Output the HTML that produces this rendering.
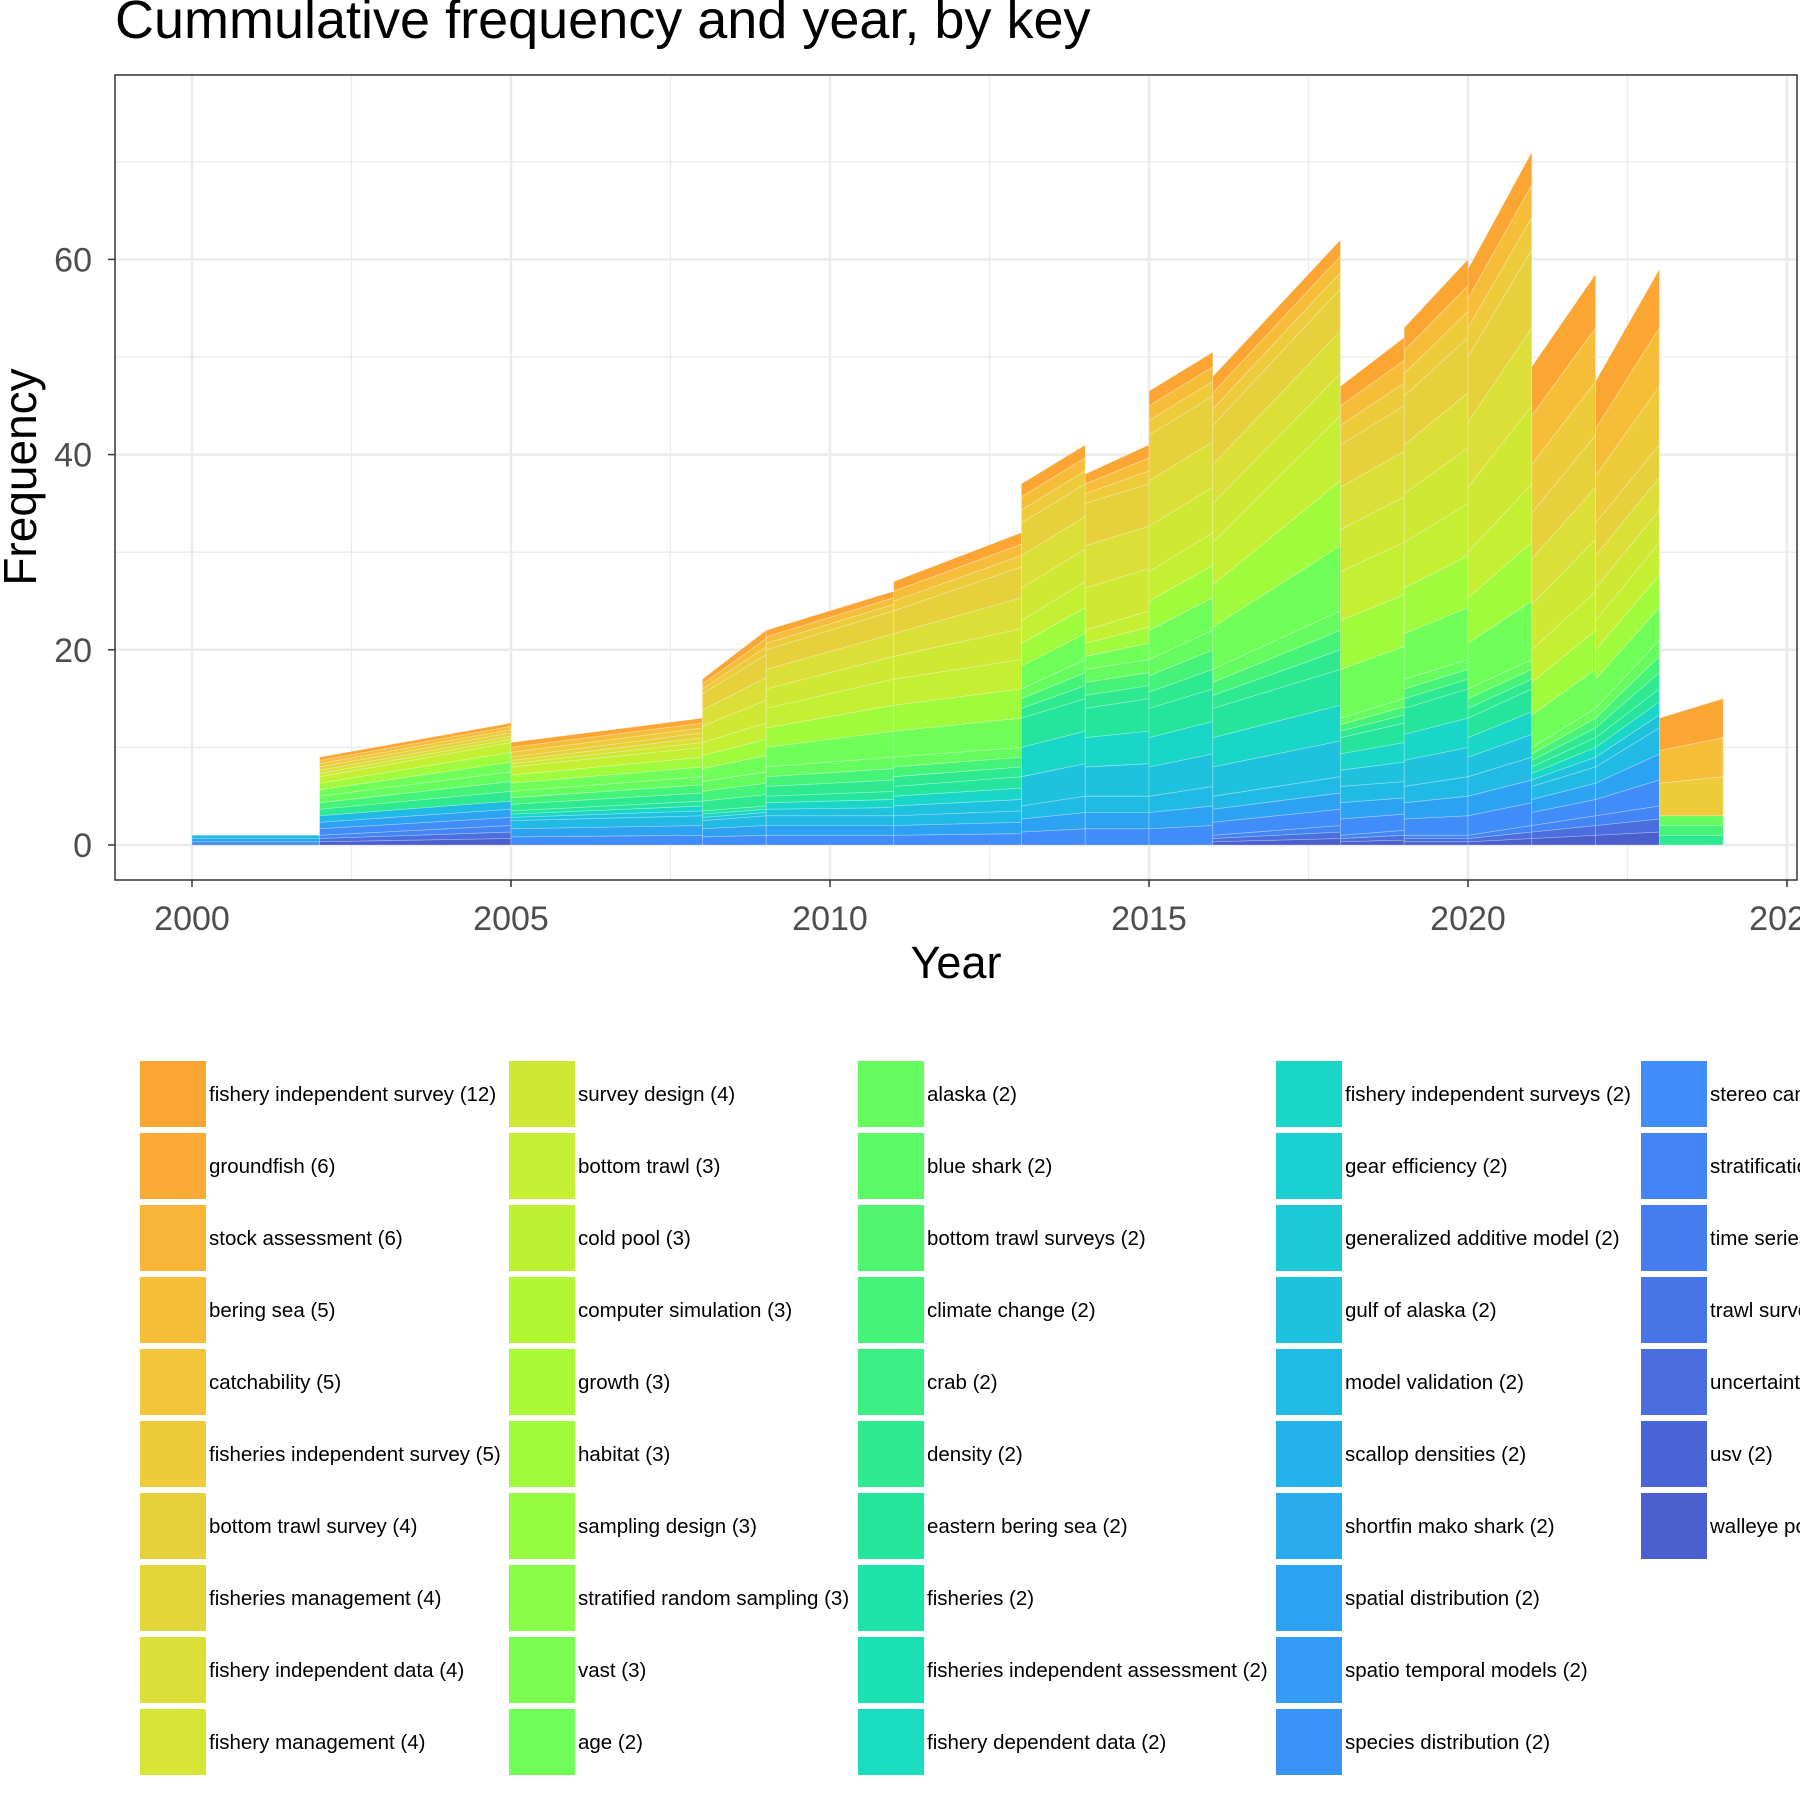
<!DOCTYPE html>
<html><head><meta charset="utf-8"><style>
body{margin:0;background:#fff;width:1800px;height:1800px;overflow:hidden;font-family:"Liberation Sans",Arial,sans-serif}
</style></head><body>
<svg id="chart" width="1800" height="1800" xmlns="http://www.w3.org/2000/svg">
<text x="115" y="38" font-size="54" fill="#000">Cummulative frequency and year, by key</text>
<g id="grid"></g>
<g id="areas"></g>
<rect x="115" y="75" width="1682" height="805" fill="none" stroke="#333" stroke-width="1.5"/>
<g id="axes"></g>
<text x="956" y="978" font-size="45" text-anchor="middle">Year</text>
<text transform="translate(36,477) rotate(-90)" font-size="46" text-anchor="middle">Frequency</text>
<g id="legend"></g>
</svg>
<script>
const xTicks=[2000,2005,2010,2015,2020,2025];
const yTicks=[0,20,40,60];
// segments: start year, end year
const segStart=[2000,2002,2005,2008,2009,2011,2013,2014,2015,2016,2018,2019,2020,2021,2022,2023];
const segEnd=[2002,2005,2008,2009,2011,2013,2014,2015,2016,2018,2019,2020,2021,2022,2023,2024];
// per group values at segment start / end (blue, cyan, teal, green, lime, yellow, orange)
const valStart=[
[0,1,0,0,0,0,0],[1,2,0,2,2,1,1],[0,2.5,1,2,2.5,1,1.5],[0,2.5,1,3,4,5,1.5],
[0,3,2,3,6,6,2],[0,3,3,3,8,7,3],[0,4,9,3,7,10,4],[0,5,9,4,4,13,3],
[0,5,9,5,9,14,4.5],[1,4,9,4,13,12,5],[1,5,5,2,15,13,6],[1,5,8,3,14,15,7],
[1,6,6,3,14,20,9],[2,4,2,2,10,14,15],[3,5,3,3,9,10,14.5],[0,0,0,3,0,0,10]];
const valEnd=[
[0,1,0,0,0,0,0],[2,2.5,0,3,3,1,1],[0,3,1.5,2.5,3,1.5,1.5],[0,3,1,3.5,5,7,2.5],
[0,3,2.5,3.5,8,7,2],[0,3.5,3.5,3,9,9.5,3.5],[0,5,10,4,8,10,4],[0,5,10,4,5,13,4],
[0,6,10,6,10,14,4.5],[2,5,11,6,20,13,5],[1.5,5,6,2.5,16,14,7],[1,6,9,3,16,17,8],
[2,7,7,3,18,24,10],[3,5,3,3,12,16,16.5],[4,8,4,5,10,10,18],[0,0,0,3,0,0,12]];
const legendLabels=["fishery independent survey (12)","groundfish (6)","stock assessment (6)","bering sea (5)","catchability (5)","fisheries independent survey (5)","bottom trawl survey (4)","fisheries management (4)","fishery independent data (4)","fishery management (4)",
"survey design (4)","bottom trawl (3)","cold pool (3)","computer simulation (3)","growth (3)","habitat (3)","sampling design (3)","stratified random sampling (3)","vast (3)","age (2)",
"alaska (2)","blue shark (2)","bottom trawl surveys (2)","climate change (2)","crab (2)","density (2)","eastern bering sea (2)","fisheries (2)","fisheries independent assessment (2)","fishery dependent data (2)",
"fishery independent surveys (2)","gear efficiency (2)","generalized additive model (2)","gulf of alaska (2)","model validation (2)","scallop densities (2)","shortfin mako shark (2)","spatial distribution (2)","spatio temporal models (2)","species distribution (2)",
"stereo cameras (2)","stratification (2)","time series (2)","trawl survey (2)","uncertainty (2)","usv (2)","walleye pollock (2)"];
const legendColors=["#fba533","#fbab35","#f9b537","#f6bd39","#f2c53a","#edcb3b","#e6d03b","#e1d63a","#dbdf38","#d6e536",
"#cfe833","#c5ef32","#bdf232","#b3f733","#aaf935","#9ffb3b","#94fd42","#88fe49","#7bfe51","#70fe58",
"#66fc5f","#5cf966","#50f56f","#45f379","#3bef84","#2fe990","#25e59d","#1ee3a9","#19e1b4","#19ddbe",
"#19d6c8","#1ad0d0","#1ccad6","#1ec2de","#21bae4","#25b2ea","#29abee","#2ea2f2","#349bf6","#3a94f8",
"#408cf9","#4385f5","#457def","#4775e6","#4a6ede","#4a66d6","#4a5ecd"];
// legend index ranges per group (bottom-index, top-index), styling only
const groupRange=[[46,41],[40,34],[33,26],[25,20],[19,11],[10,6],[5,0]];

const NS="http://www.w3.org/2000/svg";
const X0=192,XS=63.8,Y0=845,YS=9.76;
const sx=v=>X0+(v-2000)*XS, sy=v=>Y0-v*YS;
function mk(t,a,p){const e=document.createElementNS(NS,t);for(const k in a)e.setAttribute(k,a[k]);p.appendChild(e);return e;}
const grid=document.getElementById('grid'),axes=document.getElementById('axes'),areas=document.getElementById('areas'),legend=document.getElementById('legend');
for(let y=0;y<=70;y+=10){const l=mk('line',{x1:115,x2:1797,y1:sy(y),y2:sy(y),stroke:'#ebebeb','stroke-width':y%20==0?2.5:1.3},grid);
}
for(let x=1997.5;x<=2025.1;x+=2.5){if(sx(x)<115)continue;const l=mk('line',{x1:sx(x),x2:sx(x),y1:75,y2:880,stroke:'#ebebeb','stroke-width':x%5==0?2.5:1.3},grid);
}
const SUB=3;
segStart.forEach((s,i)=>{let cs=0,ce=0;
 valStart[i].forEach((v,g)=>{const ve=valEnd[i][g];if(v==0&&ve==0)return;
  const [a,b]=groupRange[g];
  for(let k=0;k<SUB;k++){
   const c=legendColors[Math.round(a+(b-a)*k/(SUB-1))];
   const s0=cs+v*k/SUB,s1=cs+v*(k+1)/SUB,e0=ce+ve*k/SUB,e1=ce+ve*(k+1)/SUB;
   const d=`M${sx(s)},${sy(s0)} L${sx(segEnd[i])},${sy(e0)} L${sx(segEnd[i])},${sy(e1)} L${sx(s)},${sy(s1)}Z`;
   const p=mk('path',{d:d,fill:c,stroke:'rgba(255,255,255,0.3)','stroke-width':0.8},areas);
   
  }
  cs+=v;ce+=ve;});
});
yTicks.forEach(v=>{mk('line',{x1:108,x2:115,y1:sy(v),y2:sy(v),stroke:'#333','stroke-width':1.5},axes);
 const t=mk('text',{x:92,y:sy(v)+12,'font-size':34,'text-anchor':'end',fill:'#4d4d4d'},axes);t.textContent=v;
 });
xTicks.forEach(v=>{mk('line',{x1:sx(v),x2:sx(v),y1:880,y2:887,stroke:'#333','stroke-width':1.5},axes);
 const t=mk('text',{x:sx(v),y:930,'font-size':34,'text-anchor':'middle',fill:'#4d4d4d'},axes);t.textContent=v;
 });
const colX=[140,509,858,1276,1641];
legendLabels.forEach((lab,i)=>{const c=Math.floor(i/10),r=i%10;const x=colX[c],y=1061+r*72;
 const k=mk('rect',{x:x,y:y,width:66,height:66,fill:legendColors[i]},legend);
 
 const t=mk('text',{x:x+69,y:y+40,'font-size':20.5,fill:'#000'},legend);t.textContent=lab;
 });
</script>
</body></html>
